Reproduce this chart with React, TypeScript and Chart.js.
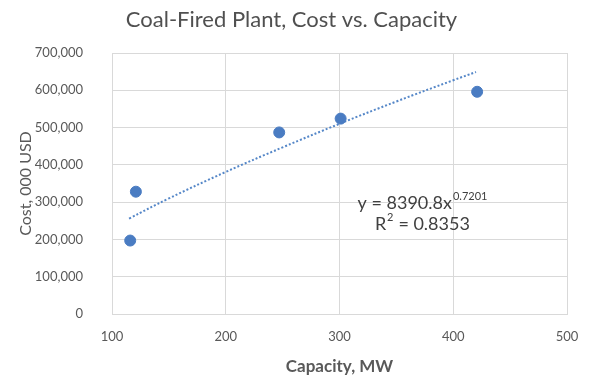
import React, { useEffect, useRef } from "react";
import { Chart, registerables } from "chart.js";

Chart.register(...registerables);

const chartTitle = "Coal-Fired Plant, Cost vs. Capacity";
const xAxisTitle = "Capacity, MW";
const yAxisTitle = "Cost, 000 USD";

// observed plants
const capacityMW = [116, 121, 247, 301, 421];
const costK = [197000, 328000, 487000, 524000, 596000];

// power trendline as drawn
const trendX = [115, 150, 200, 250, 300, 350, 400, 420];
const trendY = [256000, 310000, 381000, 447000, 510000, 570000, 627000, 649000];

const eqMain = "y = 8390.8x";
const eqExp = "0.7201";
const r2Label = "R";
const r2Value = " = 0.8353";

const FONT = "Lato, 'Open Sans', sans-serif";
const GREY = "#595959";

const equationPlugin = {
  id: "equation",
  afterDatasetsDraw(chart: any) {
    const ctx = chart.ctx;
    ctx.save();
    ctx.fillStyle = "#404040";
    ctx.textBaseline = "alphabetic";
    ctx.textAlign = "left";
    const big = `18px ${FONT}`;
    const small = `11px ${FONT}`;
    // line 1
    ctx.font = big;
    const w1 = ctx.measureText(eqMain).width;
    ctx.font = small;
    const w2 = ctx.measureText(eqExp).width;
    const cx = 422;
    let x = cx - (w1 + w2) / 2;
    const y1 = 209;
    ctx.font = big;
    ctx.fillText(eqMain, x, y1);
    ctx.font = small;
    ctx.fillText(eqExp, x + w1 + 1, y1 - 9);
    // line 2
    ctx.font = big;
    const a = ctx.measureText(r2Label).width;
    ctx.font = small;
    const b = ctx.measureText("2").width;
    ctx.font = big;
    const c = ctx.measureText(r2Value).width;
    x = cx - (a + b + c) / 2;
    const y2 = 230;
    ctx.fillText(r2Label, x, y2);
    ctx.font = small;
    ctx.fillText("2", x + a + 0.5, y2 - 9);
    ctx.font = big;
    ctx.fillText(r2Value, x + a + b + 1, y2);
    ctx.restore();
  },
};

export default function App() {
  const ref = useRef<HTMLCanvasElement>(null);
  useEffect(() => {
    document.body.style.margin = "0";
    const chart = new Chart(ref.current!, {
      type: "scatter",
      data: {
        datasets: [
          {
            label: "Cost",
            data: capacityMW.map((x, i) => ({ x, y: costK[i] })),
            backgroundColor: "#4a7cc2",
            borderColor: "#4a7cc2",
            pointRadius: 5.5,
            pointHoverRadius: 5.5,
            order: 1,
          },
          {
            type: "line",
            label: "Power trendline",
            data: trendX.map((x, i) => ({ x, y: trendY[i] })),
            borderColor: "#5587c8",
            borderWidth: 2,
            borderDash: [2, 2],
            pointRadius: 0,
            tension: 0.4,
            fill: false,
            order: 2,
          } as any,
        ],
      },
      options: {
        responsive: false,
        animation: false,
        layout: { padding: { left: 16, right: 33, top: 0, bottom: 0 } },
        plugins: {
          legend: { display: false },
          tooltip: { enabled: false },
          title: {
            display: true,
            text: chartTitle,
            color: "#505050",
            font: { family: FONT, size: 22, weight: "normal" },
            padding: { top: 7, bottom: 19.6 },
          },
        },
        scales: {
          x: {
            type: "linear",
            min: 100,
            max: 500,
            ticks: {
              stepSize: 100,
              color: GREY,
              font: { family: FONT, size: 13 },
              padding: 15,
            },
            grid: { color: "#d9d9d9", drawTicks: false },
            border: { color: "#d9d9d9" },
            title: {
              display: true,
              text: xAxisTitle,
              color: GREY,
              font: { family: FONT, size: 17, weight: "bold" },
              padding: { top: 0, bottom: 11 },
            },
            afterFit: (s: any) => {
              s.height = 74;
            },
          },
          y: {
            min: 0,
            max: 700000,
            ticks: {
              stepSize: 100000,
              color: GREY,
              font: { family: FONT, size: 13 },
              padding: 29,
              callback: (v: any) => Number(v).toLocaleString("en-US"),
            },
            grid: { color: "#d9d9d9", drawTicks: false },
            border: { color: "#d9d9d9" },
            title: {
              display: true,
              text: yAxisTitle,
              color: GREY,
              font: { family: FONT, size: 16, weight: "normal" },
              padding: { top: 0, bottom: 0 },
            },
            afterFit: (s: any) => {
              s.width = 96;
            },
          },
        },
      },
      plugins: [equationPlugin],
    });
    return () => chart.destroy();
  }, []);
  return (
    <div style={{ position: "absolute", left: 0, top: 0, width: 600, height: 388, background: "#fff" }}>
      <canvas ref={ref} width={600} height={388} />
    </div>
  );
}
